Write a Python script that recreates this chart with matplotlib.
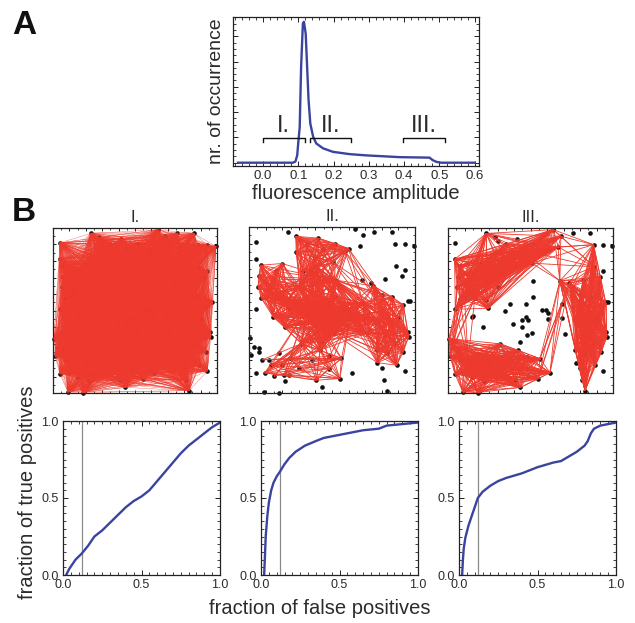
import itertools
import matplotlib
matplotlib.use("Agg")
import matplotlib.pyplot as plt
from matplotlib.collections import LineCollection
from matplotlib.ticker import MultipleLocator

plt.rcParams['font.family'] = ['Liberation Sans', 'DejaVu Sans']

TEXT = '#2b2b2b'
BLUE = '#3B43A0'
RED = '#EE3A2E'

# ---------------- Panel A data ----------------
amp_x = [-0.071, 0.085, 0.092, 0.097, 0.100, 0.104, 0.108, 0.113, 0.116, 0.121,
         0.125, 0.129, 0.134, 0.142, 0.151, 0.170, 0.198, 0.245, 0.292, 0.387,
         0.472, 0.481, 0.492, 0.505, 0.600]
amp_y = [0.0, 0.0, 0.05, 0.3, 0.8, 1.4, 3.8, 5.5, 5.57, 5.1,
         3.8, 2.5, 1.55, 1.03, 0.76, 0.57, 0.43, 0.34, 0.29, 0.22,
         0.20, 0.10, 0.03, 0.0, 0.0]
bin_labels = ['I.', 'II.', 'III.']
bin_lo = [0.0, 0.132, 0.396]
bin_hi = [0.118, 0.25, 0.516]

# ---------------- Panel B network data ----------------
NODE_X = [0.042, 0.232, 0.638, 0.684, 0.755, 0.860, 0.938, 0.668, 0.040, 0.885,
          0.940, 0.678, 0.736, 0.819, 0.955, 0.972, 0.044, 0.006, 0.060, 0.060,
          0.012, 0.618, 0.942, 0.439, 0.813, 0.830, 0.090, 0.182, 0.219, 0.282,
          0.306, 0.416, 0.577, 0.165, 0.060, 0.074, 0.100, 0.145, 0.215, 0.517,
          0.799, 0.930, 0.955, 0.962, 0.829, 0.773, 0.889, 0.557, 0.480, 0.547,
          0.406, 0.211, 0.095, 0.135, 0.245, 0.316, 0.447, 0.346, 0.306, 0.406,
          0.688, 0.608, 0.708, 0.427, 0.375, 0.471, 0.517, 0.572, 0.594, 0.609,
          0.471, 0.450, 0.487, 0.396, 0.511, 0.477, 0.436, 0.152, 0.690, 0.994,
          0.142, 0.325, 0.375, 0.507, 0.233, 0.243, 0.162, 0.122, 0.284, 0.446,
          0.882, 0.771, 0.923, 0.771, 0.750, 0.122, 0.041, 0.183, 0.243,
          0.070, 0.100, 0.055, 0.130, 0.350, 0.520, 0.600, 0.400, 0.200,
          0.800, 0.860, 0.900, 0.820, 0.880, 0.800, 0.930, 0.860,
          0.080, 0.150, 0.300, 0.380, 0.480, 0.200, 0.030]
NODE_Y = [0.910, 0.967, 0.990, 0.950, 0.967, 0.967, 0.898, 0.885, 0.810, 0.765,
          0.738, 0.680, 0.665, 0.685, 0.552, 0.552, 0.508, 0.330, 0.270, 0.250,
          0.226, 0.123, 0.134, 0.034, 0.077, 0.014, 0.006, 0.003, 0.073, 0.944,
          0.923, 0.933, 0.853, 0.732, 0.706, 0.571, 0.580, 0.460, 0.400, 0.681,
          0.591, 0.530, 0.370, 0.340, 0.238, 0.183, 0.167, 0.208, 0.147, 0.087,
          0.077, 0.107, 0.121, 0.167, 0.208, 0.298, 0.400, 0.500, 0.641, 0.762,
          0.540, 0.450, 0.359, 0.258, 0.538, 0.540, 0.580, 0.503, 0.503, 0.483,
          0.458, 0.442, 0.442, 0.418, 0.361, 0.349, 0.310, 0.467, 0.452, 0.888,
          0.686, 0.736, 0.742, 0.787, 0.564, 0.513, 0.574, 0.625, 0.848, 0.868,
          0.899, 0.260, 0.706, 0.442, 0.645, 0.199, 0.118, 0.239, 0.108,
          0.770, 0.660, 0.640, 0.600, 0.900, 0.900, 0.870, 0.820, 0.780,
          0.500, 0.580, 0.450, 0.350, 0.300, 0.150, 0.250, 0.420,
          0.200, 0.100, 0.150, 0.200, 0.220, 0.170, 0.280]

# panel I: every node belongs to one group
groups_I = [list(range(len(NODE_X)))]
bridges_I = []

# panel II
groups_II = [
    [29, 30, 31, 32, 83, 59, 58, 39, 57, 56, 82, 81, 103, 104, 105, 106, 88, 89],
    [33, 34, 35, 36, 37, 38, 58, 57, 56, 39, 80, 87, 99, 100, 101, 102, 107,
     84, 85, 86],
    [40, 41, 42, 43, 44, 45, 46, 60, 61, 62, 93, 94, 56, 39, 91, 108, 109, 110,
     111, 112, 114, 115],
    [47, 48, 49, 50, 51, 52, 53, 54, 55, 63, 56, 57, 61],
    [56, 57, 61, 64, 65, 66, 67, 68, 69, 70, 71, 72, 73, 74, 75, 76, 39, 55, 63,
     60, 62, 78, 93, 37, 38, 58, 84, 85, 86, 82, 59],
]
bridges_II = [
    ([47, 55, 63, 56], [52, 53, 51, 50]),
    ([47, 55, 54], [116, 117, 118, 119, 120, 121]),
    ([32, 83, 105], [60, 40, 108]),
]

# panel III
groups_III = [
    [1, 2, 3, 7, 8, 34, 16, 35, 80, 81, 82, 83, 84, 85, 86, 87, 88, 89, 36, 33,
     99, 100, 101, 102, 103, 104, 105, 106, 107],
    [90, 9, 11, 12, 94, 13, 40, 14, 41, 42, 43, 93, 91, 44, 46, 25, 92, 24,
     108, 109, 110, 111, 112, 113, 114, 115],
    [17, 20, 26, 27, 23, 21, 47, 49, 55, 63, 95, 96, 97, 98, 52, 53, 54, 51, 28,
     50, 48, 116, 117, 118, 119, 120, 121, 122],
]
bridges_III = [
    ([16, 35, 36, 86], [17, 20, 95, 122]),
    ([11, 60, 12], [21, 47, 49]),
    ([2, 3, 7, 83, 89], [90, 9, 11]),
]

# ---------------- ROC data ----------------
roc1_x = [0.02, 0.04, 0.08, 0.12, 0.16, 0.2, 0.25, 0.3, 0.35, 0.4, 0.45, 0.5,
          0.55, 0.6, 0.65, 0.7, 0.75, 0.8, 0.85, 0.9, 0.95, 1.0]
roc1_y = [0.0, 0.04, 0.1, 0.14, 0.19, 0.25, 0.29, 0.34, 0.39, 0.44, 0.48, 0.51,
          0.55, 0.61, 0.67, 0.73, 0.79, 0.84, 0.88, 0.92, 0.96, 0.99]
roc2_x = [0.02, 0.025, 0.03, 0.04, 0.05, 0.065, 0.08, 0.1, 0.12, 0.15, 0.18,
          0.22, 0.28, 0.35, 0.4, 0.5, 0.6, 0.65, 0.75, 0.8, 0.9, 1.0]
roc2_y = [0.0, 0.12, 0.25, 0.38, 0.47, 0.55, 0.6, 0.64, 0.67, 0.72, 0.76,
          0.8, 0.84, 0.87, 0.89, 0.91, 0.93, 0.94, 0.95, 0.97, 0.98, 0.99]
roc3_x = [0.02, 0.025, 0.03, 0.04, 0.06, 0.09, 0.12, 0.15, 0.2, 0.25, 0.3, 0.4,
          0.5, 0.6, 0.65, 0.7, 0.75, 0.8, 0.82, 0.84, 0.86, 0.9, 0.95, 1.0]
roc3_y = [0.0, 0.1, 0.17, 0.24, 0.32, 0.41, 0.5, 0.54, 0.58, 0.61, 0.63, 0.66,
          0.7, 0.73, 0.74, 0.77, 0.8, 0.84, 0.87, 0.92, 0.95, 0.97, 0.98, 0.99]
threshold = 0.12
roc_ticks = [0.0, 0.5, 1.0]
roc_ticklabels = ['0.0', '0.5', '1.0']

W, H = 635, 623
fig = plt.figure(figsize=(W / 100, H / 100), dpi=100)


def px_axes(l, t, r, b):
    return fig.add_axes([l / W, 1 - b / H, (r - l) / W, (b - t) / H])


def style_frame(ax, labelsize=9.5):
    for s in ax.spines.values():
        s.set_linewidth(0.9)
        s.set_color('#222222')
    ax.tick_params(which='both', direction='in', top=True, right=True,
                   colors='#222222', labelcolor=TEXT, labelsize=labelsize, pad=3)
    ax.tick_params(which='major', length=3.5, width=0.7)
    ax.tick_params(which='minor', length=2, width=0.6)


# ---------------- Panel A ----------------
axA = px_axes(233, 17, 479, 166)
axA.plot(amp_x, amp_y, color=BLUE, lw=1.7)
axA.set_xlim(-0.085, 0.612)
axA.set_ylim(-0.13, 5.76)
axA.xaxis.set_minor_locator(MultipleLocator(0.02))
axA.yaxis.set_major_locator(MultipleLocator(1))
axA.yaxis.set_minor_locator(MultipleLocator(0.25))
axA.set_xticks([0, 0.1, 0.2, 0.3, 0.4, 0.5, 0.6])
axA.set_xticklabels(['0.0', '0.1', '0.2', '0.3', '0.4', '0.5', '0.6'])
axA.set_yticklabels([])
style_frame(axA)
axA.set_xlabel('fluorescence amplitude', fontsize=14.5, color=TEXT, labelpad=1)
axA.set_ylabel('nr. of occurrence', fontsize=14, color=TEXT, labelpad=3)
for lab, lo, hi in zip(bin_labels, bin_lo, bin_hi):
    axA.plot([lo, lo, hi, hi], [0.83, 0.97, 0.97, 0.83], color='#111111', lw=1.0)
    axA.text((lo + hi) / 2, 1.02, lab, ha='center', va='bottom', fontsize=17,
             color=TEXT)

fig.text(12 / W, 1 - 34 / H, 'A', fontsize=24, fontweight='bold', color='#111111')
fig.text(12 / W, 1 - 221 / H, 'B', fontsize=24, fontweight='bold', color='#111111')


# ---------------- Panel B networks ----------------
def edges_of(groups, bridges):
    es = set()
    for g in groups:
        for a, b in itertools.combinations(g, 2):
            es.add((min(a, b), max(a, b)))
    for ga, gb in bridges:
        for a, b in itertools.product(ga, gb):
            if a != b:
                es.add((min(a, b), max(a, b)))
    return sorted(es)


net_boxes = [(53, 228, 217, 393), (249, 227, 415, 393), (448, 228, 613, 393)]
net_titles = ['I.', 'II.', 'III.']
net_groups = [(groups_I, bridges_I), (groups_II, bridges_II), (groups_III, bridges_III)]
net_lw = [0.22, 0.6, 0.6]
for box, title, (gr, br), lw in zip(net_boxes, net_titles, net_groups, net_lw):
    ax = px_axes(*box)
    ax.set_xlim(0, 1)
    ax.set_ylim(0, 1)
    ax.scatter(NODE_X, NODE_Y, s=11, color='#111111', zorder=2, clip_on=False,
               linewidths=0)
    segs = [[(NODE_X[a], NODE_Y[a]), (NODE_X[b], NODE_Y[b])]
            for a, b in edges_of(gr, br)]
    lc = LineCollection(segs, colors=RED, linewidths=lw, zorder=3)
    ax.add_collection(lc)
    ax.xaxis.set_major_locator(MultipleLocator(0.1))
    ax.xaxis.set_minor_locator(MultipleLocator(0.05))
    ax.yaxis.set_major_locator(MultipleLocator(0.1))
    ax.yaxis.set_minor_locator(MultipleLocator(0.05))
    style_frame(ax)
    ax.tick_params(which='major', length=2.5)
    ax.tick_params(which='minor', length=1.5)
    ax.set_xticklabels([])
    ax.set_yticklabels([])
    ax.set_title(title, fontsize=12, color=TEXT, pad=4)

# ---------------- ROC panels ----------------
roc_boxes = [(63, 421, 220, 575), (261, 421, 418, 575), (459, 421, 616, 575)]
roc_data = [(roc1_x, roc1_y), (roc2_x, roc2_y), (roc3_x, roc3_y)]
for i, (box, (rx, ry)) in enumerate(zip(roc_boxes, roc_data)):
    ax = px_axes(*box)
    ax.axvline(threshold, color='#8a8a8a', lw=0.9, zorder=1)
    ax.plot(rx, ry, color=BLUE, lw=1.7, zorder=2)
    ax.set_xlim(0, 1)
    ax.set_ylim(0, 1)
    ax.set_xticks(roc_ticks)
    ax.set_xticklabels(roc_ticklabels)
    ax.set_yticks(roc_ticks)
    ax.set_yticklabels(roc_ticklabels)
    ax.xaxis.set_minor_locator(MultipleLocator(0.05))
    ax.yaxis.set_minor_locator(MultipleLocator(0.05))
    style_frame(ax, labelsize=9)

fig.text(320 / W, 1 - 608 / H, 'fraction of false positives', fontsize=14.5,
         color=TEXT, ha='center', va='center')
fig.text(28 / W, 1 - 492 / H, 'fraction of true positives', fontsize=14.5,
         color=TEXT, ha='center', va='center', rotation=90)

fig.savefig('out.png', dpi=100)
